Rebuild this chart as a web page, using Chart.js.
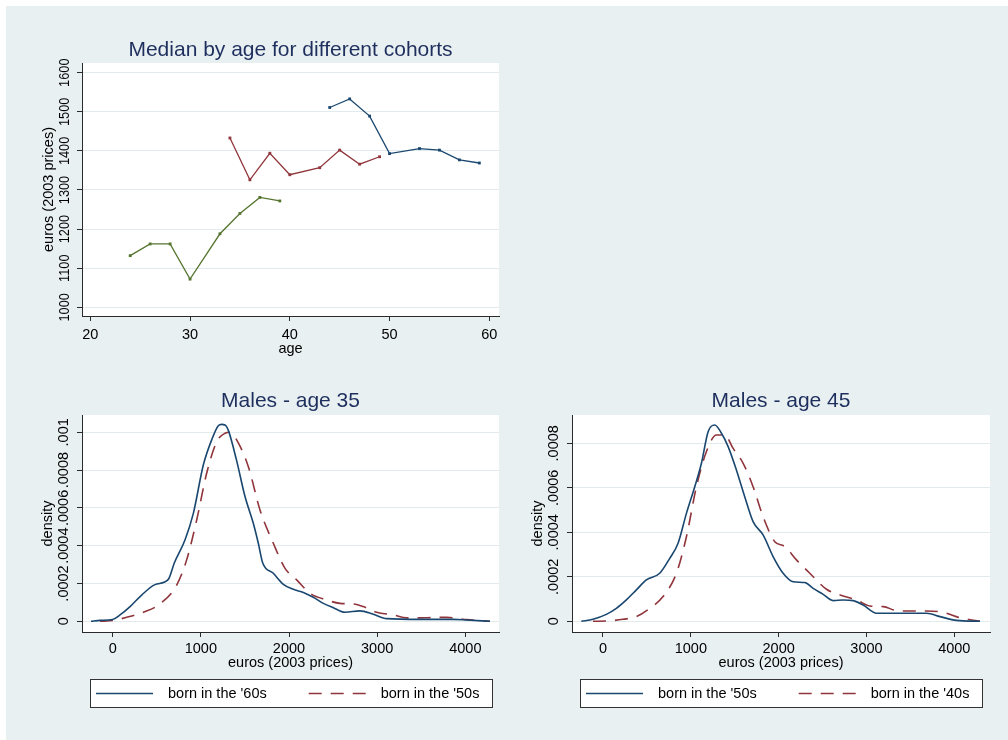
<!DOCTYPE html>
<html>
<head>
<meta charset="utf-8">
<title>Median earnings by cohort</title>
<script src="https://cdn.jsdelivr.net/npm/chart.js@4/dist/chart.umd.min.js"></script>
<style>
  html, body { margin: 0; padding: 0; background: #fff; }
  body { width: 1008px; height: 740px; position: relative; overflow: hidden; }
  #region { position: absolute; left: 6px; top: 6px; width: 1002px; height: 734px; background: #e9f0f2; }
  canvas { position: absolute; }
</style>
</head>
<body>
<div id="region"></div>
<canvas id="medianChart" width="490" height="345" style="left:20px;top:25px"></canvas>
<canvas id="age35Chart" width="490" height="335" style="left:20px;top:380px"></canvas>
<canvas id="age45Chart" width="490" height="335" style="left:510px;top:380px"></canvas>
<script>
// Median monthly earnings by age, one series per birth cohort
const ages60s = [24, 26, 28, 30, 33, 35, 37, 39];
const median60s = [1132, 1162, 1162, 1072, 1188, 1240, 1281, 1272];
const ages50s = [34, 36, 38, 40, 43, 45, 47, 49];
const median50s = [1433, 1326, 1394, 1339, 1357, 1402, 1366, 1385];
const ages40s = [44, 46, 48, 50, 53, 55, 57, 59];
const median40s = [1511, 1533, 1489, 1393, 1406, 1402, 1377, 1369];
const ageTicks = [20, 30, 40, 50, 60];
const euroTicks = [1000, 1100, 1200, 1300, 1400, 1500, 1600];

// Kernel density of earnings, males aged 35
const euros35Born60s = [-246, -144, 0, 83, 197, 329, 480, 631, 700, 820, 915, 1028, 1123, 1198, 1236, 1274, 1312, 1406, 1501, 1595, 1652, 1701, 1822, 1936, 2049, 2163, 2276, 2389, 2503, 2635, 2805, 2957, 3108, 3486, 3864, 4015, 4280];
const density35Born60s = [0, 0.000005, 0.00001, 0.0000335, 0.0000776, 0.000139, 0.000194, 0.000222, 0.00031, 0.00043, 0.000571, 0.000827, 0.00096, 0.001035, 0.001042, 0.001039, 0.00101, 0.00085, 0.00066, 0.000519, 0.000413, 0.00031, 0.000254, 0.000196, 0.000169, 0.000153, 0.000127, 0.000095, 0.000072, 0.000048, 0.000055, 0.000037, 0.000014, 0.00001, 0.00001, 0.000007, 0];
const euros35Born50s = [-144, 0, 159, 348, 537, 726, 839, 953, 1066, 1180, 1274, 1331, 1406, 1539, 1671, 1822, 1955, 2087, 2238, 2427, 2578, 2730, 2843, 2994, 3183, 3335, 3562, 3789, 4015, 4280];
const density35Born50s = [0, 0.000004, 0.000021, 0.000048, 0.000092, 0.000192, 0.000325, 0.000536, 0.000783, 0.00095, 0.000995, 0.001, 0.00096, 0.000818, 0.000589, 0.000413, 0.00028, 0.000219, 0.000148, 0.000113, 0.000095, 0.000092, 0.000078, 0.000048, 0.000034, 0.000018, 0.000019, 0.000021, 0.000009, 0];

// Kernel density of earnings, males aged 45
const euros45Born50s = [-247, -114, 38, 152, 266, 380, 494, 646, 760, 855, 950, 1045, 1121, 1197, 1273, 1349, 1425, 1519, 1614, 1709, 1823, 1937, 2051, 2165, 2298, 2393, 2507, 2621, 2735, 2849, 2963, 3115, 3305, 3495, 3685, 3837, 4027, 4293];
const density45Born50s = [0, 0.000009, 0.000031, 0.000058, 0.000096, 0.000141, 0.000186, 0.000216, 0.000283, 0.000351, 0.000485, 0.000605, 0.00071, 0.000852, 0.000882, 0.000845, 0.000785, 0.00068, 0.00056, 0.000448, 0.000388, 0.000291, 0.000216, 0.000178, 0.000174, 0.000148, 0.000121, 0.000093, 0.000096, 0.000093, 0.000073, 0.000036, 0.000036, 0.000036, 0.000036, 0.000021, 0.000004, 0];
const euros45Born40s = [-114, 76, 228, 380, 532, 684, 836, 950, 1064, 1178, 1292, 1387, 1482, 1596, 1709, 1823, 1956, 2070, 2203, 2355, 2545, 2735, 2887, 3039, 3191, 3343, 3495, 3685, 3875, 4065, 4293];
const density45Born40s = [0, 0.000002, 0.000009, 0.000021, 0.000058, 0.000111, 0.000216, 0.00038, 0.000605, 0.000763, 0.000837, 0.000837, 0.000777, 0.00071, 0.000605, 0.00047, 0.000358, 0.000336, 0.000276, 0.000216, 0.000144, 0.000114, 0.000096, 0.000069, 0.000066, 0.000048, 0.000046, 0.000046, 0.00004, 0.000016, 0];

const incomeTicks = [0, 1000, 2000, 3000, 4000];
const densityTicks35 = [0, 0.0002, 0.0004, 0.0006, 0.0008, 0.001];
const densityLabels35 = ['0', '.0002', '.0004', '.0006', '.0008', '.001'];
const densityTicks45 = [0, 0.0002, 0.0004, 0.0006, 0.0008];
const densityLabels45 = ['0', '.0002', '.0004', '.0006', '.0008'];

const NAVY = '#1a476f';
const MAROON = '#90353b';
const GREEN = '#55752f';
const TITLE_COLOR = '#1e2f5e';
const AXIS_COLOR = '#2a2a2a';
const GRID_COLOR = '#e1eaed';
const DASH = [13, 9];

Chart.defaults.font.family = '"Liberation Sans", Arial, sans-serif';
Chart.defaults.color = '#000';

const toPoints = (xs, ys) => xs.map((x, i) => ({ x: x, y: ys[i] }));
const plainNumber = value => String(value);

// white plot region behind the data
const plotBackground = {
    id: 'plotBackground',
    beforeDraw(chart) {
        const { ctx, chartArea } = chart;
        ctx.save();
        ctx.fillStyle = '#fff';
        ctx.fillRect(chartArea.left, chartArea.top, chartArea.right - chartArea.left, chartArea.bottom - chartArea.top);
        ctx.restore();
    }
};

// y tick labels written vertically (narrow), centred on their ticks
const verticalYLabels = {
    id: 'verticalYLabels',
    afterDraw(chart, args, opts) {
        const { ctx, chartArea } = chart;
        const scale = chart.scales.y;
        ctx.save();
        ctx.font = opts.size + 'px "Liberation Sans", Arial, sans-serif';
        ctx.fillStyle = '#000';
        ctx.textAlign = 'center';
        ctx.textBaseline = 'middle';
        scale.ticks.forEach(t => {
            ctx.save();
            ctx.translate(chartArea.left - opts.offset, scale.getPixelForValue(t.value));
            ctx.rotate(-Math.PI / 2);
            ctx.scale(opts.squeeze, 1);
            ctx.fillText(t.label, 0, 0);
            ctx.restore();
        });
        ctx.restore();
    }
};

// framed legend under the x axis
const framedLegend = {
    id: 'framedLegend',
    afterDraw(chart, args, opts) {
        if (!opts.show) return;
        const { ctx, chartArea } = chart;
        const left = Math.round((chartArea.left + chartArea.right) / 2 - 201);
        const top = Math.round(chartArea.bottom + 47);
        ctx.save();
        ctx.fillStyle = '#fff';
        ctx.fillRect(left, top, 402, 28);
        ctx.strokeStyle = '#333';
        ctx.lineWidth = 1;
        ctx.strokeRect(left + 0.5, top + 0.5, 402, 28);
        const midY = top + 14.5;
        chart.data.datasets.forEach((ds, i) => {
            const x0 = left + 6 + i * 212.7;
            ctx.strokeStyle = ds.borderColor;
            ctx.lineWidth = ds.borderWidth;
            ctx.setLineDash(ds.borderDash || []);
            ctx.beginPath();
            ctx.moveTo(x0, midY);
            ctx.lineTo(x0 + 57, midY);
            ctx.stroke();
            ctx.setLineDash([]);
            ctx.fillStyle = '#000';
            ctx.font = '14.5px "Liberation Sans", Arial, sans-serif';
            ctx.textAlign = 'left';
            ctx.textBaseline = 'middle';
            ctx.fillText(ds.label, x0 + 72, midY);
        });
        ctx.restore();
    }
};

function fixedTicks(values) {
    return scale => { scale.ticks = values.map(v => ({ value: v })); };
}

function medianSeries(label, xs, ys, color) {
    return {
        label: label,
        data: toPoints(xs, ys),
        borderColor: color,
        backgroundColor: color,
        borderWidth: 1.3,
        pointStyle: 'rect',
        pointRadius: 2,
        pointBorderWidth: 0,
        tension: 0
    };
}

function densitySeries(label, xs, ys, color, dash) {
    return {
        label: label,
        data: toPoints(xs, ys),
        borderColor: color,
        borderWidth: 1.6,
        borderDash: dash,
        pointRadius: 0,
        cubicInterpolationMode: 'monotone'
    };
}

function chartTitle(text, padTop, padBottom) {
    return {
        display: true,
        text: text,
        fullSize: false,
        color: TITLE_COLOR,
        font: { size: 21, weight: 'normal' },
        padding: { top: padTop, bottom: padBottom }
    };
}

// 1. Median by age, three cohorts
new Chart(document.getElementById('medianChart'), {
    type: 'line',
    data: {
        datasets: [
            medianSeries("born in the '40s", ages40s, median40s, NAVY),
            medianSeries("born in the '50s", ages50s, median50s, MAROON),
            medianSeries("born in the '60s", ages60s, median60s, GREEN)
        ]
    },
    options: {
        responsive: false,
        animation: false,
        layout: { padding: { left: 0, right: 11, top: 0, bottom: 0 } },
        plugins: {
            legend: { display: false },
            tooltip: { enabled: false },
            title: chartTitle('Median by age for different cohorts', 12.4, 0.4),
            verticalYLabels: { size: 14.5, offset: 17.5, squeeze: 0.88 },
            framedLegend: { show: false }
        },
        scales: {
            x: {
                type: 'linear',
                min: 19.17,
                max: 60.97,
                afterBuildTicks: fixedTicks(ageTicks),
                afterFit: s => { s.height = 54; },
                grid: { drawOnChartArea: false, tickLength: 5, tickColor: AXIS_COLOR },
                border: { color: AXIS_COLOR },
                ticks: { font: { size: 14.5 }, padding: 5, maxRotation: 0, callback: plainNumber },
                title: { display: true, text: 'age', font: { size: 14.5 }, padding: { top: 0, bottom: 12.3 } }
            },
            y: {
                min: 977.7,
                max: 1624.8,
                afterBuildTicks: fixedTicks(euroTicks),
                afterFit: s => { s.width = 62; },
                grid: { color: GRID_COLOR, tickLength: 5, tickColor: AXIS_COLOR },
                border: { color: AXIS_COLOR },
                ticks: { display: false, callback: plainNumber },
                title: { display: true, text: 'euros (2003 prices)', font: { size: 14.5 }, padding: { top: 20, bottom: 0 } }
            }
        }
    },
    plugins: [plotBackground, verticalYLabels, framedLegend]
});

function densityChart(canvasId, titleText, datasets, xMin, xMax, yMin, yMax, yTicks, yLabels, rightPad) {
    return new Chart(document.getElementById(canvasId), {
        type: 'line',
        data: { datasets: datasets },
        options: {
            responsive: false,
            animation: false,
            layout: { padding: { left: 0, right: rightPad, top: 0, bottom: 43 } },
            plugins: {
                legend: { display: false },
                tooltip: { enabled: false },
                title: chartTitle(titleText, 9.1, 0.7),
                verticalYLabels: { size: 14.5, offset: 17.7, squeeze: 1 },
                framedLegend: { show: true }
            },
            scales: {
                x: {
                    type: 'linear',
                    min: xMin,
                    max: xMax,
                    afterBuildTicks: fixedTicks(incomeTicks),
                    afterFit: s => { s.height = 40; },
                    grid: { drawOnChartArea: false, tickLength: 5, tickColor: AXIS_COLOR },
                    border: { color: AXIS_COLOR },
                    ticks: { font: { size: 14.5 }, padding: 3, maxRotation: 0, callback: plainNumber },
                    title: { display: true, text: 'euros (2003 prices)', font: { size: 14.5 }, padding: { top: 0, bottom: 0.8 } }
                },
                y: {
                    min: yMin,
                    max: yMax,
                    afterBuildTicks: fixedTicks(yTicks),
                    afterFit: s => { s.width = 62; },
                    grid: { color: GRID_COLOR, tickLength: 5, tickColor: AXIS_COLOR },
                    border: { color: AXIS_COLOR },
                    ticks: {
                        display: false,
                        callback: value => yLabels[yTicks.indexOf(value)]
                    },
                    title: { display: true, text: 'density', font: { size: 14.5 }, padding: { top: 19.6, bottom: 0 } }
                }
            }
        },
        plugins: [plotBackground, verticalYLabels, framedLegend]
    });
}

// 2. Males aged 35: '60s vs '50s cohorts
densityChart('age35Chart', 'Males - age 35', [
    densitySeries("born in the '60s", euros35Born60s, density35Born60s, NAVY, []),
    densitySeries("born in the '50s", euros35Born50s, density35Born50s, MAROON, DASH)
], -348, 4382, -0.0000566, 0.0010915, densityTicks35, densityLabels35, 11);

// 3. Males aged 45: '50s vs '40s cohorts
densityChart('age45Chart', 'Males - age 45', [
    densitySeries("born in the '50s", euros45Born50s, density45Born50s, NAVY, []),
    densitySeries("born in the '40s", euros45Born40s, density45Born40s, MAROON, DASH)
], -353, 4407, -0.0000481, 0.000927, densityTicks45, densityLabels45, 10);
</script>
</body>
</html>
